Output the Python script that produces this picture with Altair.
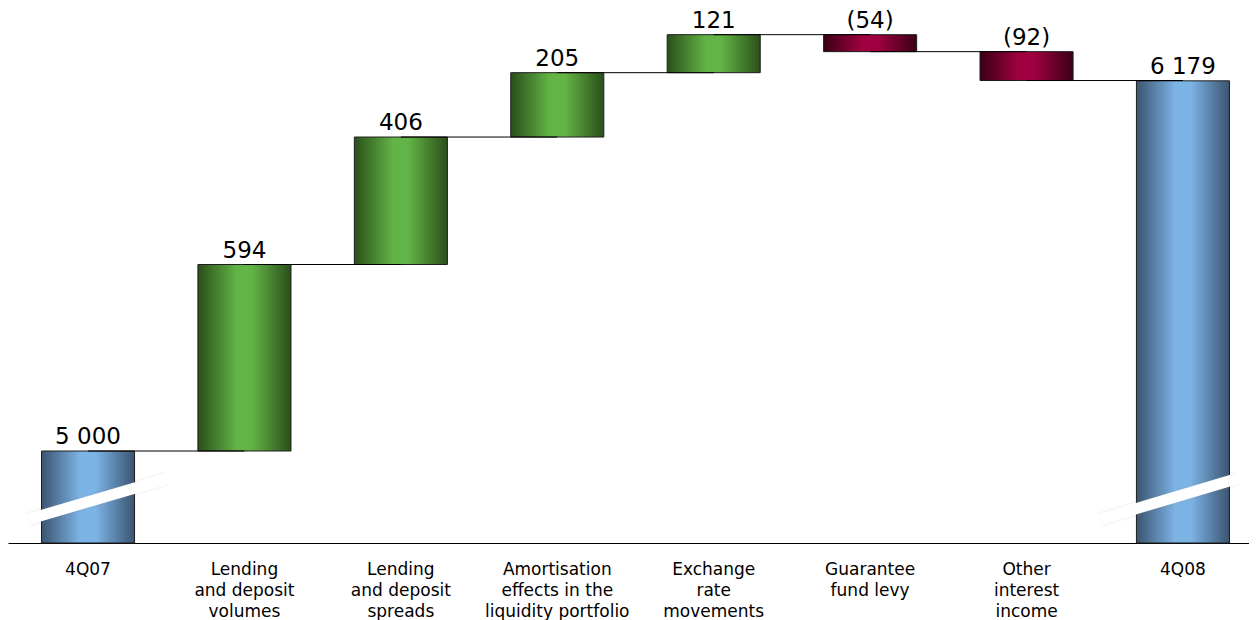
import altair as alt
import pandas as pd

categories = ["4Q07", "Lending|and deposit|volumes", "Lending|and deposit|spreads",
              "Amortisation|effects in the|liquidity portfolio", "Exchange|rate|movements",
              "Guarantee|fund levy", "Other|interest|income", "4Q08"]
values = [5000, 594, 406, 205, 121, -54, -92, 6179]
kinds = ["total", "increase", "increase", "increase", "increase", "decrease", "decrease", "total"]
value_labels = ["5 000", "594", "406", "205", "121", "(54)", "(92)", "6 179"]

axis_floor = 4707
axis_top = 6411
break_lo, break_hi = 4782, 4912

rows = []
running = 0
for c, v, k, lab in zip(categories, values, kinds, value_labels):
    if k == "total":
        start, end = axis_floor, v
        running = v
    else:
        start, end = running, running + v
        running = running + v
    rows.append(dict(cat=c, start=start, end=end, kind=k, label=lab, top=max(start, end)))
df = pd.DataFrame(rows)

conn = pd.DataFrame([dict(cat=df.cat[i], cat2=df.cat[i + 1], y=df.end[i]) for i in range(len(df) - 1)])

def grad(edge, mid):
    return alt.Gradient(gradient="linear", x1=0, x2=1, y1=0, y2=0,
                        stops=[alt.GradientStop(color=edge, offset=0),
                               alt.GradientStop(color=mid, offset=0.42),
                               alt.GradientStop(color=mid, offset=0.58),
                               alt.GradientStop(color=edge, offset=1)])

fills = {"total": grad("#3a5470", "#7db4e6"),
         "increase": grad("#2a4f1a", "#63b446"),
         "decrease": grad("#3a0016", "#a0003f")}

xscale = alt.Scale(paddingInner=0.405, paddingOuter=0.1694, align=0.632)
xenc = alt.X("cat:N", sort=categories, scale=xscale,
             axis=alt.Axis(title=None, labelAngle=0, ticks=False, domainColor="#000000",
                           domainWidth=1.2, labelFont="DejaVu Sans", labelFontSize=17,
                           labelColor="#000000", labelLineHeight=21, labelPadding=18,
                           labelBaseline="top", labelExpr="split(datum.label, '|')"))
yscale = alt.Scale(domain=[axis_floor, axis_top], nice=False, zero=False)

base = alt.Chart(df)
layers = []
for k in ["total", "increase", "decrease"]:
    layers.append(base.transform_filter(alt.datum.kind == k).mark_bar(
        fill=fills[k], stroke="#1e1e1e", strokeWidth=1).encode(
        x=xenc, y=alt.Y("start:Q", scale=yscale, axis=None), y2="end:Q"))

connectors = alt.Chart(conn).mark_rule(color="#000000", strokeWidth=1).encode(
    x=alt.X("cat:N", sort=categories), x2="cat2:N", y=alt.Y("y:Q", scale=yscale))

brk = pd.DataFrame({"cat": [categories[0], categories[-1]], "lo": [break_lo] * 2, "hi": [break_hi] * 2})
breaks = []
for i, (xo, x2o) in enumerate([(-60, 79), (-83, 54)]):
    d = alt.Chart(brk.iloc[[i]])
    breaks.append(d.mark_rule(color="#888888", strokeWidth=15, opacity=0.07, xOffset=xo, x2Offset=x2o).encode(
        x=alt.X("cat:N", sort=categories), x2="cat:N", y=alt.Y("lo:Q", scale=yscale), y2="hi:Q"))
    breaks.append(d.mark_rule(color="#ffffff", strokeWidth=11, xOffset=xo, x2Offset=x2o).encode(
        x=alt.X("cat:N", sort=categories), x2="cat:N", y=alt.Y("lo:Q", scale=yscale), y2="hi:Q"))

labels = base.mark_text(font="DejaVu Sans", fontSize=23, color="#000000", baseline="alphabetic", dy=-7).encode(
    x=alt.X("cat:N", sort=categories), y=alt.Y("top:Q", scale=yscale), text="label:N")

chart = alt.layer(*layers, connectors, *breaks, labels).properties(
    width=1241, height=535, background="#ffffff",
    padding={"left": 0, "right": 0, "top": 0, "bottom": 10}
).configure_view(stroke=None)

chart.save("out.html", embed_options={"renderer": "svg", "actions": False})
